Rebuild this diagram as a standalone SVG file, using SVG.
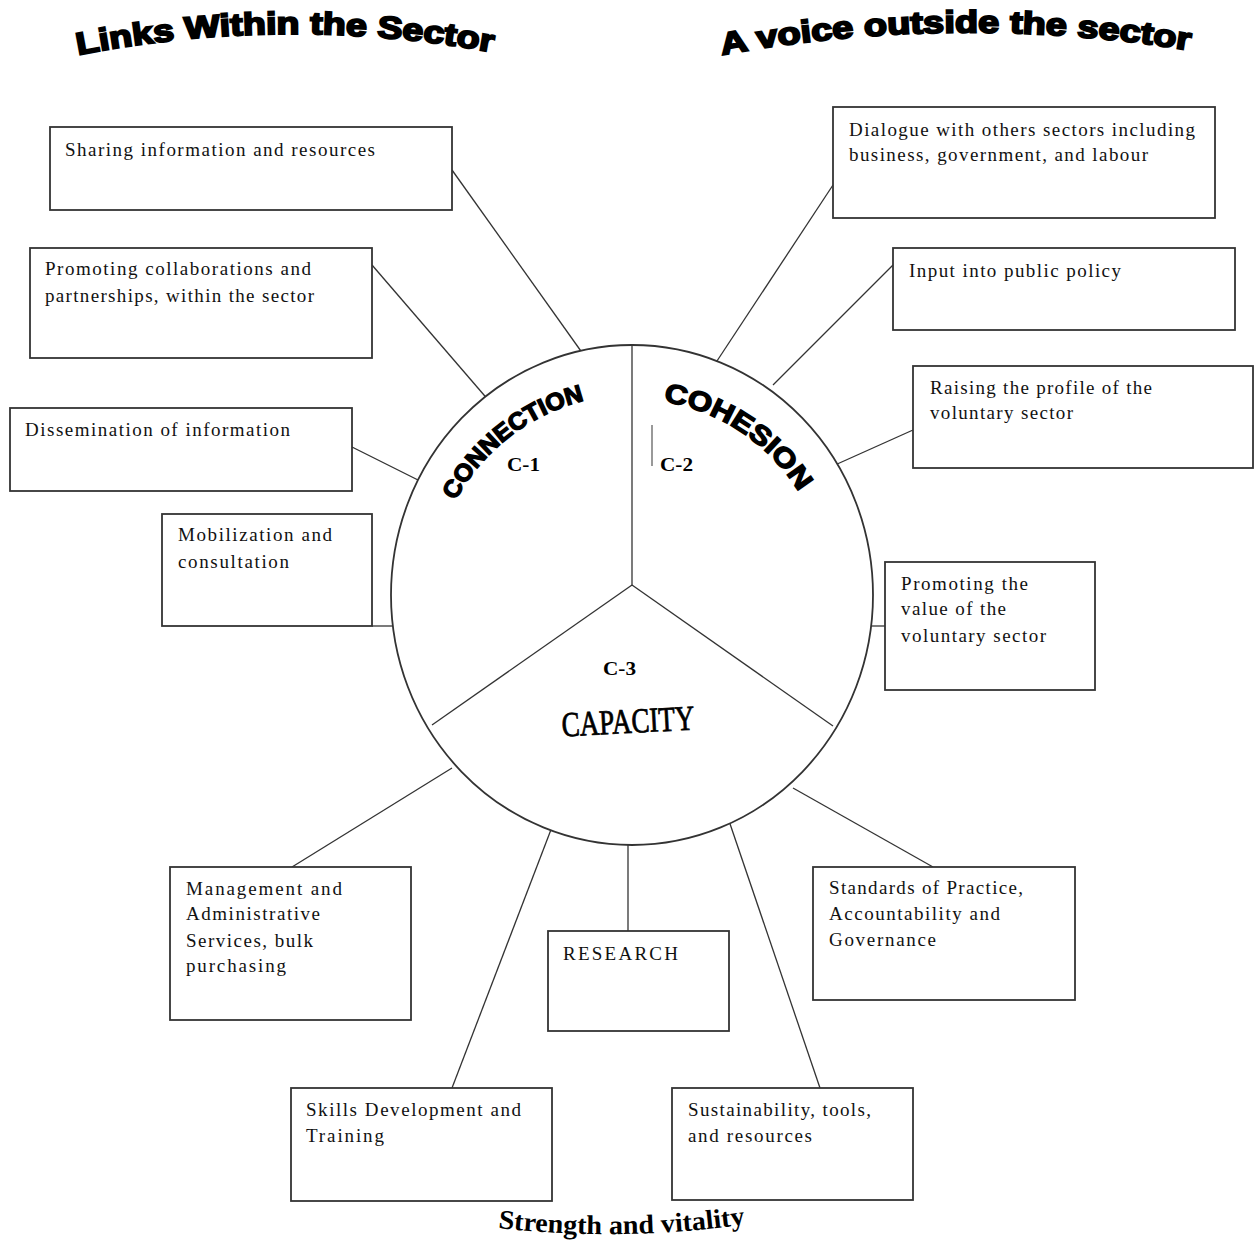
<svg xmlns="http://www.w3.org/2000/svg" width="1254" height="1240" viewBox="0 0 1254 1240">
<style>
.box{fill:#fff;stroke:#333;stroke-width:1.8}
.lbl{font-family:"Liberation Serif","Times New Roman",serif;font-size:19px;fill:#111}
.con{stroke:#333;stroke-width:1.3;fill:none}
.title{font-family:"Liberation Sans",Arial,sans-serif;font-weight:900;font-size:31px;fill:#000;stroke:#000;stroke-width:2}
.arc{font-family:"Liberation Sans",Arial,sans-serif;font-weight:900;font-size:24px;fill:#000;stroke:#000;stroke-width:1.4}
.cl{font-family:"Liberation Serif","Times New Roman",serif;font-weight:bold;font-size:18px;fill:#000}
</style>
<defs>
<path id="tp1" d="M 78 55 Q 287 14 497 53"/>
<path id="tp2" d="M 722 55 Q 958 12 1194 51"/>
<path id="ring" d="M 432 595 A 200 200 0 0 1 832 595"/>
<path id="ring2" d="M 436 595 A 196 196 0 0 1 828 595"/>
<path id="tp3" d="M 498 1228 Q 622 1242 748 1224"/>
</defs>
<rect width="1254" height="1240" fill="#fff"/>

<g id="titles">
<text class="title"><textPath href="#tp1" textLength="417" lengthAdjust="spacingAndGlyphs">Links Within the Sector</textPath></text>
<text class="title"><textPath href="#tp2" textLength="470" lengthAdjust="spacingAndGlyphs">A voice outside the sector</textPath></text>
</g>

<g id="connectors">
<line class="con" x1="452" y1="170" x2="593" y2="368"/>
<line class="con" x1="372" y1="265" x2="490" y2="402"/>
<line class="con" x1="352" y1="447" x2="428" y2="485"/>
<line class="con" x1="372" y1="626" x2="393" y2="626"/>
<line class="con" x1="833" y1="185" x2="715" y2="364"/>
<line class="con" x1="893" y1="265" x2="773" y2="385"/>
<line class="con" x1="913" y1="430" x2="835" y2="465"/>
<line class="con" x1="871" y1="626" x2="893" y2="626"/>
<line class="con" x1="292" y1="867" x2="452" y2="768"/>
<line class="con" x1="628" y1="820" x2="628" y2="931"/>
<line class="con" x1="933" y1="867" x2="793" y2="788"/>
<line class="con" x1="452" y1="1088" x2="552" y2="827"/>
<line class="con" x1="820" y1="1088" x2="727" y2="815"/>
</g>

<g id="wheel">
<ellipse cx="632" cy="595" rx="241" ry="250" fill="#fff" stroke="#333" stroke-width="1.8"/>
<line class="con" x1="632" y1="345" x2="632" y2="585"/>
<line class="con" x1="632" y1="585" x2="432" y2="725"/>
<line class="con" x1="632" y1="585" x2="833" y2="726"/>
<line x1="652" y1="425" x2="652" y2="466" stroke="#777" stroke-width="1.5"/>
<text class="arc"><textPath href="#ring" startOffset="182" text-anchor="middle" textLength="168" lengthAdjust="spacingAndGlyphs">CONNECTION</textPath></text>
<text class="arc" style="font-size:27px"><textPath href="#ring2" startOffset="423" text-anchor="middle" textLength="168" lengthAdjust="spacingAndGlyphs">COHESION</textPath></text>
<text class="cl" x="507" y="471" textLength="33" lengthAdjust="spacingAndGlyphs">C-1</text>
<text class="cl" x="660" y="471" textLength="33" lengthAdjust="spacingAndGlyphs">C-2</text>
<text class="cl" x="603" y="675" textLength="33" lengthAdjust="spacingAndGlyphs">C-3</text>
<text x="562" y="733" transform="rotate(-3 628 730)" font-family="Liberation Serif, Times New Roman, serif" font-size="35" fill="#000" stroke="#000" stroke-width="0.8" textLength="133" lengthAdjust="spacingAndGlyphs">CAPACITY</text>
</g>

<g id="n1"><rect class="box" x="50" y="127" width="402" height="83"/>
<text class="lbl" x="65" y="156" textLength="310">Sharing information and resources</text></g>
<g id="n2"><rect class="box" x="30" y="248" width="342" height="110"/>
<text class="lbl" x="45" y="275" textLength="266">Promoting collaborations and</text>
<text class="lbl" x="45" y="302" textLength="269">partnerships, within the sector</text></g>
<g id="n3"><rect class="box" x="10" y="408" width="342" height="83"/>
<text class="lbl" x="25" y="436" textLength="265">Dissemination of information</text></g>
<g id="n4"><rect class="box" x="162" y="514" width="210" height="112"/>
<text class="lbl" x="178" y="541" textLength="154">Mobilization and</text>
<text class="lbl" x="178" y="568" textLength="111">consultation</text></g>
<g id="n5"><rect class="box" x="833" y="107" width="382" height="111"/>
<text class="lbl" x="849" y="136" textLength="346">Dialogue with others sectors including</text>
<text class="lbl" x="849" y="161" textLength="299">business, government, and labour</text></g>
<g id="n6"><rect class="box" x="893" y="248" width="342" height="82"/>
<text class="lbl" x="909" y="277" textLength="212">Input into public policy</text></g>
<g id="n7"><rect class="box" x="913" y="366" width="340" height="102"/>
<text class="lbl" x="930" y="394" textLength="222">Raising the profile of the</text>
<text class="lbl" x="930" y="419" textLength="143">voluntary sector</text></g>
<g id="n8"><rect class="box" x="885" y="562" width="210" height="128"/>
<text class="lbl" x="901" y="590" textLength="127">Promoting the</text>
<text class="lbl" x="901" y="615" textLength="105">value of the</text>
<text class="lbl" x="901" y="642" textLength="145">voluntary sector</text></g>
<g id="n9"><rect class="box" x="170" y="867" width="241" height="153"/>
<text class="lbl" x="186" y="895" textLength="156">Management and</text>
<text class="lbl" x="186" y="920" textLength="134">Administrative</text>
<text class="lbl" x="186" y="947" textLength="127">Services, bulk</text>
<text class="lbl" x="186" y="972" textLength="100">purchasing</text></g>
<g id="n10"><rect class="box" x="548" y="931" width="181" height="100"/>
<text class="lbl" x="563" y="960" textLength="115">RESEARCH</text></g>
<g id="n11"><rect class="box" x="813" y="867" width="262" height="133"/>
<text class="lbl" x="829" y="894" textLength="194">Standards of Practice,</text>
<text class="lbl" x="829" y="920" textLength="171">Accountability and</text>
<text class="lbl" x="829" y="946" textLength="107">Governance</text></g>
<g id="n12"><rect class="box" x="291" y="1088" width="261" height="113"/>
<text class="lbl" x="306" y="1116" textLength="215">Skills Development and</text>
<text class="lbl" x="306" y="1142" textLength="78">Training</text></g>
<g id="n13"><rect class="box" x="672" y="1088" width="241" height="112"/>
<text class="lbl" x="688" y="1116" textLength="183">Sustainability, tools,</text>
<text class="lbl" x="688" y="1142" textLength="124">and resources</text></g>

<g id="footer">
<text font-family="Liberation Serif, Times New Roman, serif" font-size="27" font-weight="bold" fill="#000"><textPath href="#tp3" textLength="248" lengthAdjust="spacingAndGlyphs">Strength and vitality</textPath></text>
</g>
</svg>
